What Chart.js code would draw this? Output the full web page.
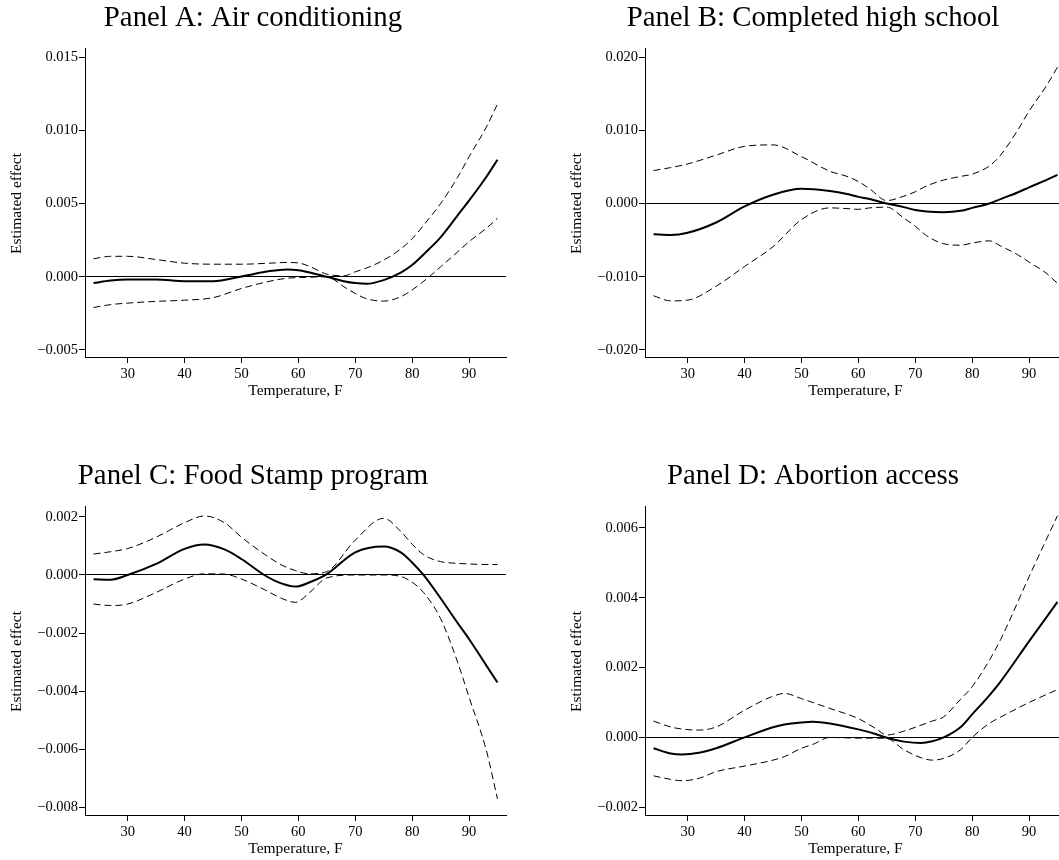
<!DOCTYPE html>
<html>
<head>
<meta charset="utf-8">
<script src="https://cdn.jsdelivr.net/npm/chart.js@4.4.1/dist/chart.umd.min.js"></script>
<style>
  html, body { margin: 0; padding: 0; background: #fff; overflow: hidden; }
  body { width: 1059px; height: 860px; position: relative; }
  .panel { position: absolute; width: 512px; height: 405px; }
</style>
</head>
<body>
<div class="panel" style="left:0;top:0"><canvas id="chartA"></canvas></div>
<div class="panel" style="left:560px;top:0"><canvas id="chartB"></canvas></div>
<div class="panel" style="left:0;top:458px"><canvas id="chartC"></canvas></div>
<div class="panel" style="left:560px;top:458px"><canvas id="chartD"></canvas></div>
<script>
// Trục x chung (nhiệt độ, F)
const tempTicks = [30, 40, 50, 60, 70, 80, 90];

// Panel A: Air conditioning
const aTemp = [24, 27, 30, 35, 40, 45, 50, 55, 58, 60, 62, 65, 68, 70, 72, 75, 78, 80, 83, 85, 88, 90, 93, 95];
const aEst = [-0.00043, -0.00025, -0.00018, -0.00018, -0.0003, -0.0003, 0.00002, 0.00039, 0.0005, 0.00045, 0.0003, 0, -0.0003, -0.00043, -0.00048, -0.00023, 0.00028, 0.0008, 0.0019, 0.0027, 0.0042, 0.0052, 0.0068, 0.008];
const aUpper = [0.00123, 0.0014, 0.0014, 0.00118, 0.00093, 0.00086, 0.00086, 0.00093, 0.00098, 0.00095, 0.0007, 0.00018, 0.00007, 0.00034, 0.0006, 0.00114, 0.0019, 0.0026, 0.004, 0.005, 0.0068, 0.0082, 0.0102, 0.0118];
const aLower = [-0.0021, -0.0019, -0.0018, -0.00168, -0.0016, -0.00143, -0.0008, -0.0003, -0.0001, -0.00005, -0.00003, 0, -0.00068, -0.00114, -0.0015, -0.00166, -0.00136, -0.0009, 0, 0.00068, 0.0017, 0.0024, 0.0033, 0.004];
const aTicks = [-0.005, 0, 0.005, 0.010, 0.015];

// Panel B: Completed high school
const bTemp = [24, 27, 30, 35, 40, 45, 50, 55, 58, 60, 62, 65, 68, 70, 72, 75, 78, 80, 83, 85, 88, 90, 93, 95];
const bEst = [-0.0042, -0.0043, -0.004, -0.0026, -0.0004, 0.0012, 0.002, 0.0017, 0.0013, 0.0009, 0.0006, 0, -0.0005, -0.0009, -0.0011, -0.0012, -0.001, -0.0006, 0, 0.0006, 0.0015, 0.0022, 0.0032, 0.0039];
const bUpper = [0.0045, 0.0049, 0.0054, 0.0066, 0.0078, 0.008, 0.0064, 0.0044, 0.0037, 0.003, 0.002, 0.0004, 0.001, 0.0016, 0.0024, 0.0032, 0.0037, 0.004, 0.0051, 0.0066, 0.01, 0.0126, 0.016, 0.0186];
const bLower = [-0.0126, -0.0133, -0.0132, -0.0113, -0.0086, -0.0059, -0.0022, -0.0006, -0.0007, -0.0008, -0.0006, -0.0005, -0.002, -0.0031, -0.0044, -0.0055, -0.0057, -0.0054, -0.0051, -0.0058, -0.007, -0.008, -0.0095, -0.0109];
const bTicks = [-0.020, -0.010, 0, 0.010, 0.020];

// Panel C: Food Stamp program
const cTemp = [24, 27, 30, 35, 40, 43.5, 47, 50, 54, 57, 59.5, 62, 65, 70, 75, 78, 80, 82, 85, 88, 90, 93, 95];
const cEst = [-0.00015, -0.00016, 0, 0.00038, 0.0009, 0.00105, 0.00088, 0.00055, 0, -0.00029, -0.0004, -0.00025, 0.00003, 0.00078, 0.00098, 0.00078, 0.00043, 0, -0.0008, -0.00165, -0.0022, -0.0031, -0.0037];
const cUpper = [0.00072, 0.0008, 0.00091, 0.0013, 0.0018, 0.00203, 0.0018, 0.0013, 0.00072, 0.00035, 0.00015, 0.00004, 0.00012, 0.0012, 0.00195, 0.0015, 0.00106, 0.0007, 0.00046, 0.0004, 0.00038, 0.00036, 0.00036];
const cLower = [-0.001, -0.00105, -0.001, -0.0006, -0.00014, 0.00004, 0.00003, -0.00014, -0.0005, -0.0008, -0.00094, -0.0006, -0.0001, 0, 0, -0.00005, -0.00025, -0.0006, -0.0015, -0.003, -0.0042, -0.006, -0.0077];
const cTicks = [-0.008, -0.006, -0.004, -0.002, 0, 0.002];

// Panel D: Abortion access
const dTemp = [24, 27, 29, 32, 35, 40, 45, 47, 50, 52, 55, 60, 63, 65, 68, 71, 73, 75, 78, 80, 83, 85, 90, 95];
const dEst = [-0.00031, -0.00046, -0.00049, -0.00044, -0.00031, 0, 0.00029, 0.00037, 0.00043, 0.00045, 0.0004, 0.00023, 0.0001, -0.00001, -0.00012, -0.00016, -0.00011, 0, 0.0003, 0.00066, 0.0012, 0.0016, 0.00275, 0.00388];
const dUpper = [0.00047, 0.0003, 0.00024, 0.00021, 0.0003, 0.00078, 0.00118, 0.00126, 0.00111, 0.001, 0.00083, 0.00054, 0.00026, 0.00007, 0.00018, 0.00035, 0.00047, 0.00059, 0.0011, 0.00145, 0.0022, 0.0028, 0.0046, 0.00635];
const dLower = [-0.0011, -0.0012, -0.00124, -0.00117, -0.00098, -0.00082, -0.00065, -0.00055, -0.00031, -0.0002, 0, -0.00002, -0.00002, -0.00003, -0.00035, -0.00058, -0.00065, -0.0006, -0.00035, 0, 0.0004, 0.00058, 0.001, 0.00137];
const dTicks = [-0.002, 0, 0.002, 0.004, 0.006];

const serif = "'Liberation Serif', 'Times New Roman', serif";

function fmtTick(v) {
    return (v < 0 ? '\u2212' : '') + Math.abs(v).toFixed(3);
}

function makePanel(id, title, temps, est, upper, lower, yTicks, yMin, yMax) {
    const pts = arr => temps.map((t, i) => ({ x: t, y: arr[i] }));
    const dashed = arr => ({
        data: pts(arr),
        borderColor: '#000',
        borderWidth: 1,
        borderDash: [7, 4],
        pointRadius: 0,
        cubicInterpolationMode: 'monotone',
        fill: false
    });
    new Chart(document.getElementById(id), {
        type: 'line',
        data: {
            datasets: [
                dashed(upper),
                dashed(lower),
                {
                    data: pts(est),
                    borderColor: '#000',
                    borderWidth: 2,
                    pointRadius: 0,
                    cubicInterpolationMode: 'monotone',
                    fill: false
                }
            ]
        },
        options: {
            responsive: true,
            maintainAspectRatio: false,
            animation: false,
            events: [],
            layout: { padding: { top: 0, right: 6, bottom: 0, left: 0 } },
            plugins: {
                legend: { display: false },
                tooltip: { enabled: false },
                title: {
                    display: true,
                    text: title,
                    color: '#000',
                    font: { family: serif, size: 28.8, weight: 'normal' },
                    padding: { top: 0.7, bottom: 13.7 }
                }
            },
            scales: {
                x: {
                    type: 'linear',
                    min: 22.5,
                    max: 96.5,
                    afterBuildTicks: s => { s.ticks = tempTicks.map(v => ({ value: v })); },
                    afterFit: s => { s.height = 47; },
                    grid: { drawOnChartArea: false, drawTicks: true, tickLength: 5, color: '#000' },
                    border: { display: true, color: '#000', width: 1 },
                    ticks: { color: '#000', padding: 2, maxRotation: 0, font: { family: serif, size: 14.5 } },
                    title: {
                        display: true, text: 'Temperature, F', color: '#000',
                        font: { family: serif, size: 15.5 }, padding: { top: 0, bottom: 5 }
                    }
                },
                y: {
                    min: yMin,
                    max: yMax,
                    afterBuildTicks: s => { s.ticks = yTicks.map(v => ({ value: v })); },
                    afterFit: s => { s.width = 85; },
                    grid: {
                        drawOnChartArea: true,
                        drawTicks: true,
                        tickLength: 6,
                        color: c => (c.tick && c.tick.value === 0 ? '#000' : 'rgba(0,0,0,0)'),
                        tickColor: '#000',
                        lineWidth: 1
                    },
                    border: { display: true, color: '#000', width: 1 },
                    ticks: { color: '#000', padding: 1, callback: v => fmtTick(v), font: { family: serif, size: 14.5 } },
                    title: {
                        display: true, text: 'Estimated effect', color: '#000',
                        font: { family: serif, size: 15.5 }, padding: { top: 8, bottom: 0 }
                    }
                }
            }
        }
    });
}

makePanel('chartA', 'Panel A: Air conditioning', aTemp, aEst, aUpper, aLower, aTicks, -0.00555, 0.01557);
makePanel('chartB', 'Panel B: Completed high school', bTemp, bEst, bUpper, bLower, bTicks, -0.0211, 0.0211);
makePanel('chartC', 'Panel C: Food Stamp program', cTemp, cEst, cUpper, cLower, cTicks, -0.00829, 0.00234);
makePanel('chartD', 'Panel D: Abortion access', dTemp, dEst, dUpper, dLower, dTicks, -0.00225, 0.0066);
</script>
</body>
</html>
